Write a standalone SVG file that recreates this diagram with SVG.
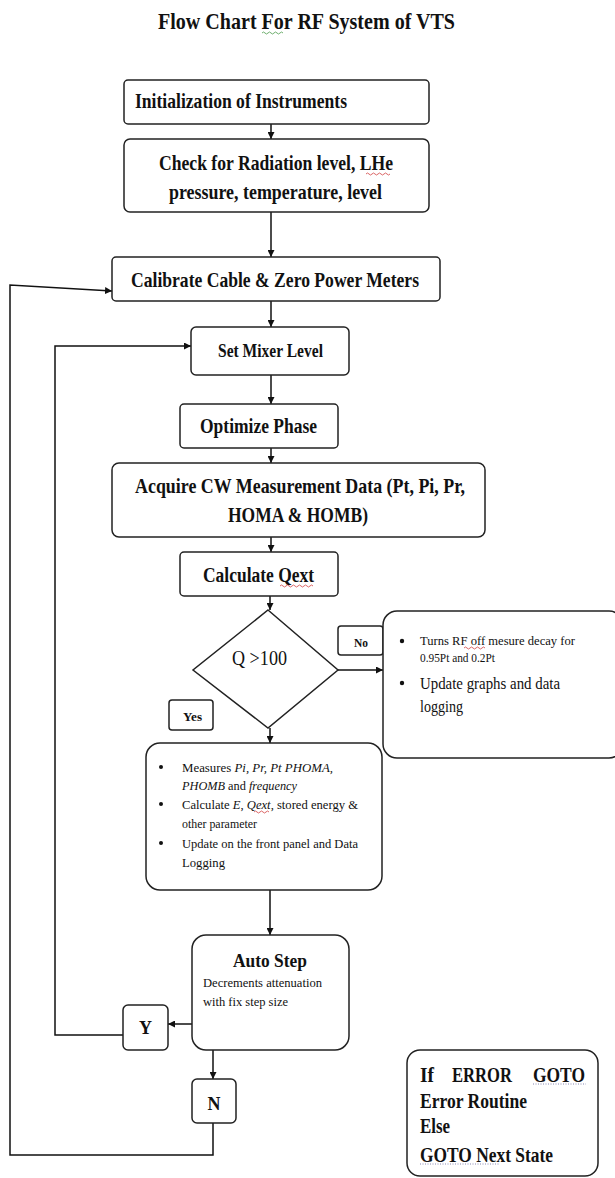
<svg xmlns="http://www.w3.org/2000/svg" width="615" height="1178" viewBox="0 0 615 1178">
<style>
.bx{fill:#fff;stroke:#222;stroke-width:1.5}
.ln{fill:none;stroke:#111;stroke-width:1.5}
.t{font-family:"Liberation Serif","Times New Roman",serif;fill:#111}
.b{font-weight:bold}
.sq{fill:none;stroke-width:0.8}
</style>
<defs>
<marker id="ah" viewBox="0 0 10 10" refX="10" refY="5" markerWidth="7" markerHeight="7" orient="auto" markerUnits="userSpaceOnUse">
<path d="M0,0 L10,5 L0,10 Z" fill="#111"/>
</marker>
</defs>
<rect width="615" height="1178" fill="#fff"/>
<text id="title" class="t b" x="158" y="29" font-size="23" textLength="297" lengthAdjust="spacingAndGlyphs">Flow Chart For RF System of VTS</text>
<path class="sq" stroke="#4a9a4a" d="M262,33 q1.5,-2 3,0 t3,0 t3,0 t3,0 t3,0 t3,0 t3,0"/>

<g id="connectors">
<line class="ln" x1="271" y1="124" x2="271" y2="139" marker-end="url(#ah)"/>
<line class="ln" x1="271" y1="212" x2="271" y2="257" marker-end="url(#ah)"/>
<line class="ln" x1="271" y1="301" x2="271" y2="327" marker-end="url(#ah)"/>
<line class="ln" x1="271" y1="375" x2="271" y2="404" marker-end="url(#ah)"/>
<line class="ln" x1="271" y1="448" x2="271" y2="463" marker-end="url(#ah)"/>
<line class="ln" x1="271" y1="537" x2="271" y2="552" marker-end="url(#ah)"/>
<line class="ln" x1="270" y1="596" x2="270" y2="610" marker-end="url(#ah)"/>
<line class="ln" x1="338" y1="670" x2="383" y2="670" marker-end="url(#ah)"/>
<line class="ln" x1="270" y1="728" x2="270" y2="743" marker-end="url(#ah)"/>
<line class="ln" x1="270" y1="890" x2="270" y2="935" marker-end="url(#ah)"/>
<line class="ln" x1="192" y1="1024" x2="168" y2="1024" marker-end="url(#ah)"/>
<polyline class="ln" points="123,1035 55,1035 55,346 191,346" marker-end="url(#ah)"/>
<line class="ln" x1="213" y1="1050" x2="213" y2="1079" marker-end="url(#ah)"/>
<polyline class="ln" points="213,1123 213,1155 10,1155 10,285 112,291" marker-end="url(#ah)"/>
</g>

<g id="n1"><rect class="bx" x="124" y="80" width="305" height="44" rx="4"/>
<text class="t b" x="135" y="108" font-size="21" textLength="212" lengthAdjust="spacingAndGlyphs">Initialization of Instruments</text></g>

<g id="n2"><rect class="bx" x="124" y="139" width="305" height="73" rx="6"/>
<text class="t b" x="159" y="170" font-size="21" textLength="234" lengthAdjust="spacingAndGlyphs">Check for Radiation level, LHe</text>
<text class="t b" x="169" y="199" font-size="21" textLength="213" lengthAdjust="spacingAndGlyphs">pressure, temperature, level</text>
<path class="sq" stroke="#d04040" d="M366,174 q1.5,-2 3,0 t3,0 t3,0 t3,0 t3,0 t3,0 t3,0 t3,0"/></g>

<g id="n3"><rect class="bx" x="112" y="257" width="328" height="44" rx="4"/>
<text class="t b" x="131" y="287" font-size="21" textLength="288" lengthAdjust="spacingAndGlyphs">Calibrate Cable &amp; Zero Power Meters</text></g>

<g id="n4"><rect class="bx" x="191" y="327" width="158" height="48" rx="5"/>
<text class="t b" x="218" y="357" font-size="19" textLength="105" lengthAdjust="spacingAndGlyphs">Set Mixer Level</text></g>

<g id="n5"><rect class="bx" x="180" y="404" width="158" height="44" rx="4"/>
<text class="t b" x="200" y="433" font-size="20" textLength="117" lengthAdjust="spacingAndGlyphs">Optimize Phase</text></g>

<g id="n6"><rect class="bx" x="112" y="463" width="373" height="74" rx="7"/>
<text class="t b" x="135" y="493" font-size="21" textLength="330" lengthAdjust="spacingAndGlyphs">Acquire CW Measurement Data (Pt, Pi, Pr,</text>
<text class="t b" x="228" y="522" font-size="21" textLength="140" lengthAdjust="spacingAndGlyphs">HOMA &amp; HOMB)</text></g>

<g id="n7"><rect class="bx" x="180" y="552" width="158" height="44" rx="4"/>
<text class="t b" x="203" y="582" font-size="20" textLength="111" lengthAdjust="spacingAndGlyphs">Calculate Qext</text>
<path class="sq" stroke="#d04040" d="M280,586 q1.5,-2 3,0 t3,0 t3,0 t3,0 t3,0 t3,0 t3,0 t3,0 t3,0 t3,0 t3,0"/></g>

<g id="d1"><polygon class="bx" points="268,610 338,670 268,728 193,670"/>
<text class="t" x="232" y="665" font-size="22" textLength="55" lengthAdjust="spacingAndGlyphs">Q &gt;100</text></g>

<g id="no"><rect class="bx" x="338" y="626" width="45" height="29" rx="3"/>
<text class="t b" x="354" y="647" font-size="13" textLength="14" lengthAdjust="spacingAndGlyphs">No</text></g>

<g id="yes"><rect class="bx" x="169" y="700" width="44" height="30" rx="3"/>
<text class="t b" x="183" y="721" font-size="13" textLength="19" lengthAdjust="spacingAndGlyphs">Yes</text></g>

<g id="n8"><rect class="bx" x="383" y="611" width="240" height="147" rx="14"/>
<circle cx="402" cy="641" r="2.2" fill="#111"/>
<text class="t" x="420" y="645" font-size="12" textLength="155" lengthAdjust="spacingAndGlyphs">Turns RF off mesure decay  for</text>
<path class="sq" stroke="#d04040" d="M464,648 q1.5,-2 3,0 t3,0 t3,0 t3,0 t3,0 t3,0 t3,0"/>
<text class="t" x="420" y="662" font-size="12" textLength="75" lengthAdjust="spacingAndGlyphs">0.95Pt and 0.2Pt</text>
<circle cx="402" cy="683" r="2.2" fill="#111"/>
<text class="t" x="420" y="689" font-size="17" textLength="140" lengthAdjust="spacingAndGlyphs">Update graphs and data</text>
<text class="t" x="420" y="712" font-size="17" textLength="43" lengthAdjust="spacingAndGlyphs">logging</text></g>

<g id="n9"><rect class="bx" x="146" y="743" width="236" height="147" rx="14"/>
<circle cx="161" cy="767" r="2" fill="#111"/>
<text class="t" x="182" y="772" font-size="13" textLength="151" lengthAdjust="spacingAndGlyphs">Measures <tspan font-style="italic">Pi, Pr, Pt PHOMA,</tspan></text>
<text class="t" x="182" y="790" font-size="13" textLength="115" lengthAdjust="spacingAndGlyphs"><tspan font-style="italic">PHOMB</tspan> and <tspan font-style="italic">frequency</tspan></text>
<circle cx="161" cy="804" r="2" fill="#111"/>
<text class="t" x="182" y="809" font-size="13" textLength="176" lengthAdjust="spacingAndGlyphs">Calculate <tspan font-style="italic">E</tspan>, <tspan font-style="italic">Qext</tspan>, stored energy &amp;</text>
<path class="sq" stroke="#d04040" d="M254,812 q1.5,-2 3,0 t3,0 t3,0 t3,0 t3,0"/>
<text class="t" x="182" y="828" font-size="13" textLength="75" lengthAdjust="spacingAndGlyphs">other parameter</text>
<circle cx="161" cy="843" r="2" fill="#111"/>
<text class="t" x="182" y="848" font-size="13" textLength="176" lengthAdjust="spacingAndGlyphs">Update on the front panel and Data</text>
<text class="t" x="182" y="867" font-size="13" textLength="43" lengthAdjust="spacingAndGlyphs">Logging</text></g>

<g id="n10"><rect class="bx" x="192" y="935" width="157" height="115" rx="14"/>
<text class="t b" x="233" y="967" font-size="19" textLength="74" lengthAdjust="spacingAndGlyphs">Auto Step</text>
<text class="t" x="203" y="987" font-size="13" textLength="119" lengthAdjust="spacingAndGlyphs">Decrements attenuation</text>
<text class="t" x="203" y="1006" font-size="13" textLength="85" lengthAdjust="spacingAndGlyphs">with fix step size</text></g>

<g id="y"><rect class="bx" x="123" y="1005" width="45" height="45" rx="5"/>
<text class="t b" x="145.5" y="1034" font-size="18" text-anchor="middle">Y</text></g>

<g id="n"><rect class="bx" x="192" y="1079" width="44" height="44" rx="5"/>
<text class="t b" x="214" y="1110" font-size="18" text-anchor="middle">N</text></g>

<g id="err"><rect class="bx" x="407" y="1050" width="191" height="126" rx="13"/>
<text class="t b" x="420" y="1082" font-size="21" textLength="14" lengthAdjust="spacingAndGlyphs">If</text>
<text class="t b" x="452" y="1082" font-size="21" textLength="60" lengthAdjust="spacingAndGlyphs">ERROR</text>
<text class="t b" x="533" y="1082" font-size="21" textLength="52" lengthAdjust="spacingAndGlyphs">GOTO</text>
<path class="sq" stroke="#6a6aa0" stroke-dasharray="1,1.5" d="M533,1084 H586"/>
<text class="t b" x="420" y="1108" font-size="21" textLength="107" lengthAdjust="spacingAndGlyphs">Error Routine</text>
<text class="t b" x="420" y="1133" font-size="21" textLength="30" lengthAdjust="spacingAndGlyphs">Else</text>
<text class="t b" x="420" y="1162" font-size="21" textLength="133" lengthAdjust="spacingAndGlyphs">GOTO Next State</text>
<path class="sq" stroke="#6a6aa0" stroke-dasharray="1,1.5" d="M420,1164 H500"/></g>
</svg>
